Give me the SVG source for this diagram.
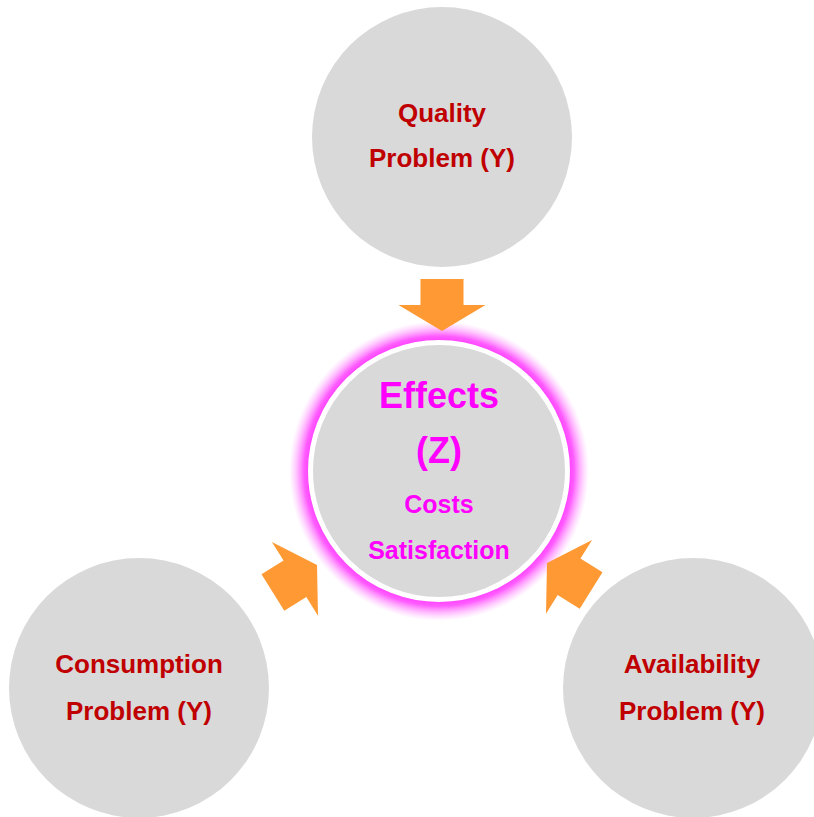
<svg xmlns="http://www.w3.org/2000/svg" width="814" height="817" viewBox="0 0 814 817">
  <style>
    .outer { fill: #D9D9D9; }
    .lbl { font-family: "Liberation Sans", Arial, sans-serif; font-weight: bold; fill: #C00000; font-size: 26px; text-anchor: middle; }
    .ctr { font-family: "Liberation Sans", Arial, sans-serif; font-weight: bold; fill: #FF00FF; text-anchor: middle; }
    .arrow { fill: #FF9933; }
  </style>
  <defs>
    <radialGradient id="glow" gradientUnits="userSpaceOnUse" cx="439" cy="471" r="150">
      <stop offset="0.85" stop-color="#FF33FF" stop-opacity="1"/>
      <stop offset="0.90" stop-color="#FF40FF" stop-opacity="0.85"/>
      <stop offset="0.95" stop-color="#FF66FF" stop-opacity="0.4"/>
      <stop offset="1" stop-color="#FF99FF" stop-opacity="0"/>
    </radialGradient>
    <path id="arr" d="M0,0 L-26,-43.5 L-26,-21.5 L-52,-21.5 L-52,21.5 L-26,21.5 L-26,43.5 Z"/>
  </defs>
  <rect width="814" height="817" fill="#FFFFFF"/>

  <g id="quality">
    <circle class="outer" cx="442" cy="137" r="130"/>
    <text class="lbl" x="442" y="122">Quality</text>
    <text class="lbl" x="442" y="167">Problem (Y)</text>
  </g>

  <g id="consumption">
    <circle class="outer" cx="139" cy="688" r="130"/>
    <text class="lbl" x="139" y="673">Consumption</text>
    <text class="lbl" x="139" y="720">Problem (Y)</text>
  </g>

  <g id="availability">
    <circle class="outer" cx="693" cy="688" r="130"/>
    <text class="lbl" x="692" y="673">Availability</text>
    <text class="lbl" x="692" y="720">Problem (Y)</text>
  </g>

  <g id="effects">
    <circle cx="439" cy="471" r="150" fill="url(#glow)"/>
    <circle cx="439" cy="471" r="128.5" fill="#D9D9D9" stroke="#FFFFFF" stroke-width="5"/>
    <text class="ctr" x="439" y="408" font-size="36">Effects</text>
    <text class="ctr" x="439" y="463" font-size="36">(Z)</text>
    <text class="ctr" x="439" y="513" font-size="25">Costs</text>
    <text class="ctr" x="439" y="559" font-size="25">Satisfaction</text>
  </g>

  <g id="connectors">
    <use href="#arr" class="arrow" transform="translate(442,331) rotate(90)"/>
    <use href="#arr" class="arrow" transform="translate(317,565) rotate(-32)"/>
    <use href="#arr" class="arrow" transform="translate(547,563) rotate(212)"/>
  </g>
</svg>
